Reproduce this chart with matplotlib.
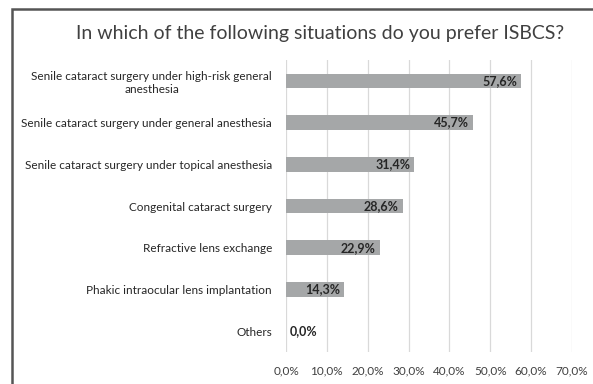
import matplotlib.pyplot as plt
from matplotlib.patches import Rectangle

# Data
categories = [
    "Senile cataract surgery under high-risk general\nanesthesia",
    "Senile cataract surgery under general anesthesia",
    "Senile cataract surgery under topical anesthesia",
    "Congenital cataract surgery",
    "Refractive lens exchange",
    "Phakic intraocular lens implantation",
    "Others",
]
values = [57.6, 45.7, 31.4, 28.6, 22.9, 14.3, 0.0]
ticks = [0, 10, 20, 30, 40, 50, 60, 70]

plt.rcParams["font.family"] = ["Lato", "DejaVu Sans"]

fig = plt.figure(figsize=(5.93, 3.84), dpi=100)
ax = fig.add_axes([286 / 593, 1 - 352 / 384, (572 - 286) / 593, (352 - 60) / 384])

y = list(range(len(categories)))
ax.barh(y, values, height=0.35, color="#a5a7a8", zorder=2)
for yi, v in zip(y, values):
    label = f"{v:.1f}%".replace(".", ",")
    if v > 0:
        ax.text(v - 1.0, yi, label, ha="right", va="center",
                fontsize=9, fontweight="bold", color="#262626", zorder=3)
    else:
        ax.text(v + 0.8, yi, label, ha="left", va="center",
                fontsize=9, fontweight="bold", color="#262626", zorder=3)

ax.set_xlim(0, 70)
ax.set_ylim(len(categories) - 0.5, -0.5)
ax.set_xticks(ticks)
ax.set_xticklabels([f"{t:.1f}%".replace(".", ",") for t in ticks],
                   fontsize=8.5, color="#404040")
ax.set_yticks(y)
ax.set_yticklabels(categories, fontsize=8.5, color="#262626")
for lab in ax.get_yticklabels():
    lab.set_multialignment("center")
ax.tick_params(axis="y", length=0, pad=10)
ax.tick_params(axis="x", length=0, pad=10)
ax.grid(axis="x", color="#d9d9d9", linewidth=0.9, zorder=0)
for s in ax.spines.values():
    s.set_visible(False)

fig.text(320 / 593, 1 - 33 / 384, "In which of the following situations do you prefer ISBCS?",
         ha="center", va="center", fontsize=14, color="#404040")

# outer chart frame
fig.patches.append(Rectangle((11.5 / 593, -0.05), 1.1, 1 - 8.5 / 384 + 0.05,
                             transform=fig.transFigure, fill=False,
                             edgecolor="#555555", linewidth=1.8))

fig.savefig("out.png", dpi=100)
